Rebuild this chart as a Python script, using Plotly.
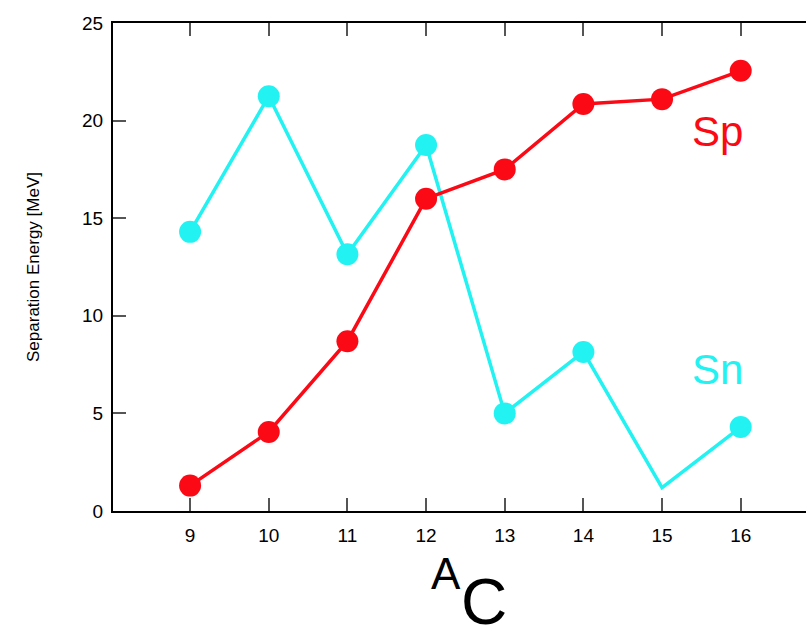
import plotly.graph_objects as go

mass_numbers = [9, 10, 11, 12, 13, 14, 15, 16]
sp_values = [1.3, 4.05, 8.7, 16.0, 17.5, 20.85, 21.1, 22.55]
sn_values = [14.3, 21.25, 13.15, 18.75, 5.0, 8.15, 1.2, 4.3]
sn_marker_sizes = [22, 22, 22, 22, 22, 22, 0, 22]
x_ticks = [9, 10, 11, 12, 13, 14, 15, 16]
y_ticks = [0, 5, 10, 15, 20, 25]

RED = "#fb0a16"
CYAN = "#22f2f2"
FONT = "Liberation Sans, Arial, sans-serif"

L, T, B, W, H = 113, 23, 126, 806, 637
PW = W - L
PH = H - T - B


def px_to_paper(xp, yp):
    return (xp - L) / PW, (H - B - yp) / PH


fig = go.Figure()
fig.add_trace(go.Scatter(x=mass_numbers, y=sn_values, mode="lines+markers",
                         line=dict(color=CYAN, width=3.5),
                         marker=dict(color=CYAN, size=sn_marker_sizes, opacity=1,
                                     line=dict(width=0)),
                         showlegend=False))
fig.add_trace(go.Scatter(x=mass_numbers, y=sp_values, mode="lines+markers",
                         line=dict(color=RED, width=3.5),
                         marker=dict(color=RED, size=22, opacity=1, line=dict(width=0)),
                         showlegend=False))

for txt, (cx, cy), size, color in [
    ("Sp", (717, 131), 42, RED),
    ("Sn", (717, 369), 42, CYAN),
    ("A", (446, 573), 44, "black"),
    ("C", (484, 602), 64, "black"),
]:
    xp, yp = px_to_paper(cx, cy)
    fig.add_annotation(x=xp, y=yp, xref="paper", yref="paper", text=txt,
                       showarrow=False, xanchor="center", yanchor="middle",
                       font=dict(family=FONT, size=size, color=color))

fig.update_layout(
    width=W, height=H,
    margin=dict(l=L, r=0, t=T, b=B, autoexpand=False),
    plot_bgcolor="white", paper_bgcolor="white",
    font=dict(family=FONT, size=19, color="black"),
    xaxis=dict(range=[8.02, 16.83], tickvals=x_ticks, ticks="inside", ticklen=13,
               tickwidth=2, tickcolor="#555", showline=True, linewidth=2,
               linecolor="black", mirror="ticks", showgrid=False, zeroline=False,
               tickfont=dict(size=19), ticklabelstandoff=6),
    yaxis=dict(range=[0, 25], tickvals=y_ticks, ticks="inside", ticklen=13,
               tickwidth=2, tickcolor="#555", showline=True, linewidth=2,
               linecolor="black", showgrid=False, zeroline=False,
               tickfont=dict(size=19), ticklabelstandoff=4,
               title=dict(text="Separation Energy [MeV]", font=dict(size=17), standoff=38)),
)

fig.write_html("out.html", config={"displayModeBar": False},
               post_script="document.body.style.margin='0';")
